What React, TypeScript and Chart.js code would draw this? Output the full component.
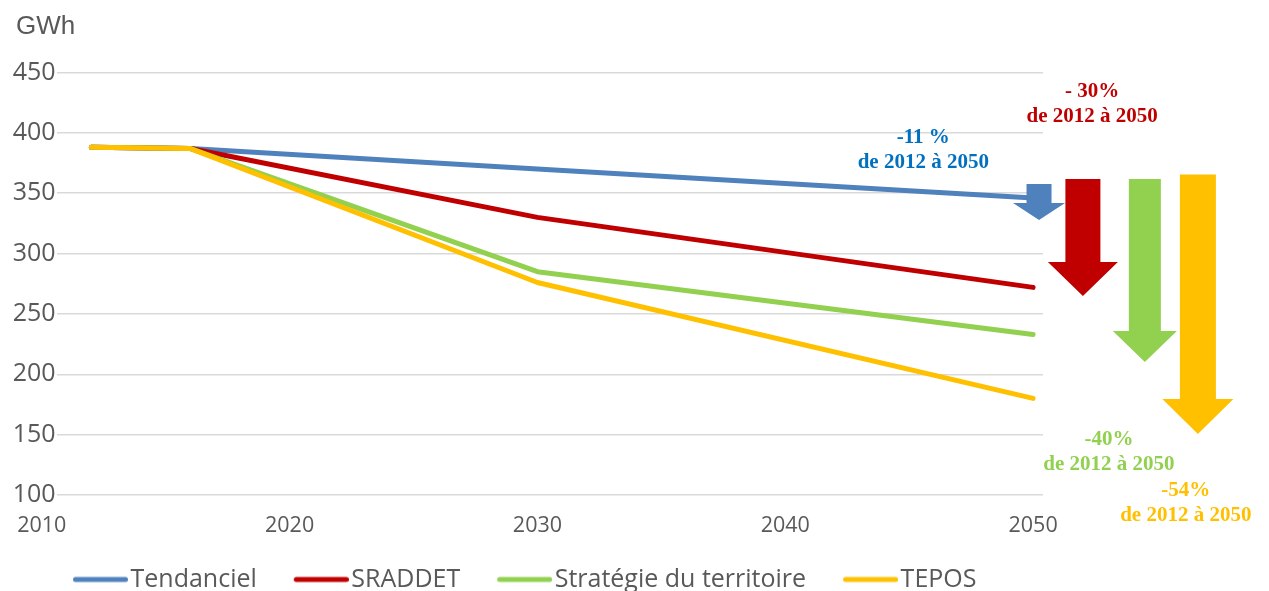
import React, { useEffect, useRef } from "react";
import { Chart, registerables } from "chart.js";

Chart.register(...registerables);

// ---- data ----
const years = [2012, 2016, 2030, 2050];
const seriesNames = ["Tendanciel", "SRADDET", "Stratégie du territoire", "TEPOS"];
const tendanciel = [388, 387, 370, 346];
const sraddet = [388, 387, 330, 272];
const strategie = [388, 387, 285, 233];
const tepos = [388, 387, 276, 180];
const xTickYears = [2010, 2020, 2030, 2040, 2050];
const yTicks = [100, 150, 200, 250, 300, 350, 400, 450];
const unitLabel = "GWh";
const changeLabels = ["-11 %", "- 30%", "-40%", "-54%"];
const periodLabel = "de 2012 à 2050";

// ---- styles / decoration geometry ----
const colors = ["#4F81BD", "#C00000", "#92D050", "#FFC000"];
const textColors = ["#0070C0", "#C00000", "#92D050", "#FFC000"];
// arrows: x in years, y in GWh, half widths in px
const arrows = [
  { x: 2050.24, top: 357.6, head: 341.9, tip: 327.8, shaft: 12.5, headHalf: 26 },
  { x: 2052.01, top: 361.8, head: 293.0, tip: 264.9, shaft: 17.5, headHalf: 35 },
  { x: 2054.51, top: 361.8, head: 235.9, tip: 210.2, shaft: 16, headHalf: 32 },
  { x: 2056.65, top: 365.5, head: 179.5, tip: 150.5, shaft: 18, headHalf: 35.5 },
];
// label anchors: centre x (years) and first baseline (GWh)
const labelAnchors = [
  { x: 2045.57, y: 391.6 },
  { x: 2052.38, y: 429.7 },
  { x: 2053.06, y: 141.4 },
  { x: 2056.16, y: 99.2 },
];

const FONT = "'Open Sans', 'Liberation Sans', Arial, sans-serif";
const TITLE_FONT = "'Liberation Sans', Arial, sans-serif";
const GREY = "#595959";

function makeLegendImage(color: string): HTMLCanvasElement {
  const c = document.createElement("canvas");
  c.width = 92;
  c.height = 10;
  const ctx = c.getContext("2d")!;
  ctx.strokeStyle = color;
  ctx.lineWidth = 5;
  ctx.lineCap = "round";
  ctx.beginPath();
  ctx.moveTo(37 + 2.5, 5);
  ctx.lineTo(92 - 2.5, 5);
  ctx.stroke();
  return c;
}

const decorPlugin = {
  id: "decor",
  afterDatasetsDraw(chart: any) {
    const { ctx, scales } = chart;
    const xs = scales.x;
    const ys = scales.y;
    ctx.save();
    arrows.forEach((a, i) => {
      const cx = xs.getPixelForValue(a.x);
      const top = ys.getPixelForValue(a.top);
      const head = ys.getPixelForValue(a.head);
      const tip = ys.getPixelForValue(a.tip);
      ctx.fillStyle = colors[i];
      ctx.beginPath();
      ctx.moveTo(cx - a.shaft, top);
      ctx.lineTo(cx + a.shaft, top);
      ctx.lineTo(cx + a.shaft, head);
      ctx.lineTo(cx + a.headHalf, head);
      ctx.lineTo(cx, tip);
      ctx.lineTo(cx - a.headHalf, head);
      ctx.lineTo(cx - a.shaft, head);
      ctx.closePath();
      ctx.fill();
    });
    ctx.restore();
  },
  afterDraw(chart: any) {
    const { ctx, scales } = chart;
    const xs = scales.x;
    const ys = scales.y;
    ctx.save();
    ctx.textAlign = "center";
    ctx.textBaseline = "alphabetic";
    ctx.font = "bold 21px 'Liberation Serif', 'Times New Roman', serif";
    labelAnchors.forEach((p, i) => {
      const cx = xs.getPixelForValue(p.x);
      const by = ys.getPixelForValue(p.y);
      ctx.fillStyle = textColors[i];
      ctx.fillText(changeLabels[i], cx, by);
      ctx.fillText(periodLabel, cx, by + 25);
    });
    ctx.textAlign = "left";
    ctx.fillStyle = GREY;
    ctx.font = `26px ${TITLE_FONT}`;
    ctx.fillText(unitLabel, 16, 34);
    ctx.restore();
  },
};

export default function App() {
  const ref = useRef<HTMLCanvasElement | null>(null);

  useEffect(() => {
    if (!ref.current) return;
    const series = [tendanciel, sraddet, strategie, tepos];
    const legendImgs = colors.map(makeLegendImage);
    const chart = new Chart(ref.current, {
      type: "line",
      data: {
        datasets: series.map((vals, i) => ({
          label: seriesNames[i],
          data: years.map((x, j) => ({ x, y: vals[j] })),
          borderColor: colors[i],
          backgroundColor: colors[i],
          borderWidth: 5,
          borderCapStyle: "round",
          borderJoinStyle: "round",
          pointRadius: 0,
          pointHoverRadius: 0,
          tension: 0,
          fill: false,
          order: series.length - 1 - i,
        })),
      },
      options: {
        responsive: false,
        animation: false,
        devicePixelRatio: 1,
        layout: { padding: { left: 36, top: 72.5, right: 0, bottom: 0 } },
        plugins: {
          tooltip: { enabled: false },
          title: { display: false },
          legend: {
            display: true,
            position: "bottom",
            align: "start",
            labels: {
              usePointStyle: true,
              pointStyleWidth: 72,
              padding: 10,
              color: GREY,
              font: { family: FONT, size: 25 },
              sort: (a: any, b: any) => a.datasetIndex - b.datasetIndex,
              generateLabels: (c: any) => {
                const items = (Chart as any).defaults.plugins.legend.labels.generateLabels(c);
                return items.map((it: any) => ({ ...it, pointStyle: legendImgs[it.datasetIndex] }));
              },
            },
          },
        },
        scales: {
          x: {
            type: "linear",
            min: 2010.6,
            max: 2050.4,
            grid: { display: false, drawTicks: false },
            border: { display: false },
            afterBuildTicks: (s: any) => {
              s.ticks = xTickYears.map((v) => ({ value: v }));
            },
            afterFit: (s: any) => {
              s.height = 62;
            },
            ticks: {
              autoSkip: false,
              maxRotation: 0,
              padding: 18,
              color: GREY,
              font: { family: FONT, size: 21.5 },
              callback: (v: any) => String(v),
            },
          },
          y: {
            type: "linear",
            min: 100,
            max: 450,
            afterBuildTicks: (s: any) => {
              s.ticks = yTicks.map((v) => ({ value: v }));
            },
            afterFit: (s: any) => {
              s.width = 19;
            },
            grid: { color: "#D9D9D9", lineWidth: 1.5, drawTicks: false },
            border: { display: false },
            ticks: {
              mirror: true,
              crossAlign: "near",
              padding: -44,
              color: GREY,
              font: { family: FONT, size: 25 },
            },
          },
          y2: {
            type: "linear",
            position: "right",
            display: true,
            grid: { display: false },
            border: { display: false },
            ticks: { display: false },
            afterFit: (s: any) => {
              s.width = 226;
            },
          },
        },
      },
      plugins: [decorPlugin],
    } as any);
    return () => chart.destroy();
  }, []);

  return (
    <div
      style={{
        position: "absolute",
        left: 0,
        top: 0,
        width: 1269,
        height: 591,
        overflow: "hidden",
        background: "#fff",
      }}
    >
      <canvas ref={ref} width={1269} height={602} style={{ display: "block" }} />
    </div>
  );
}
